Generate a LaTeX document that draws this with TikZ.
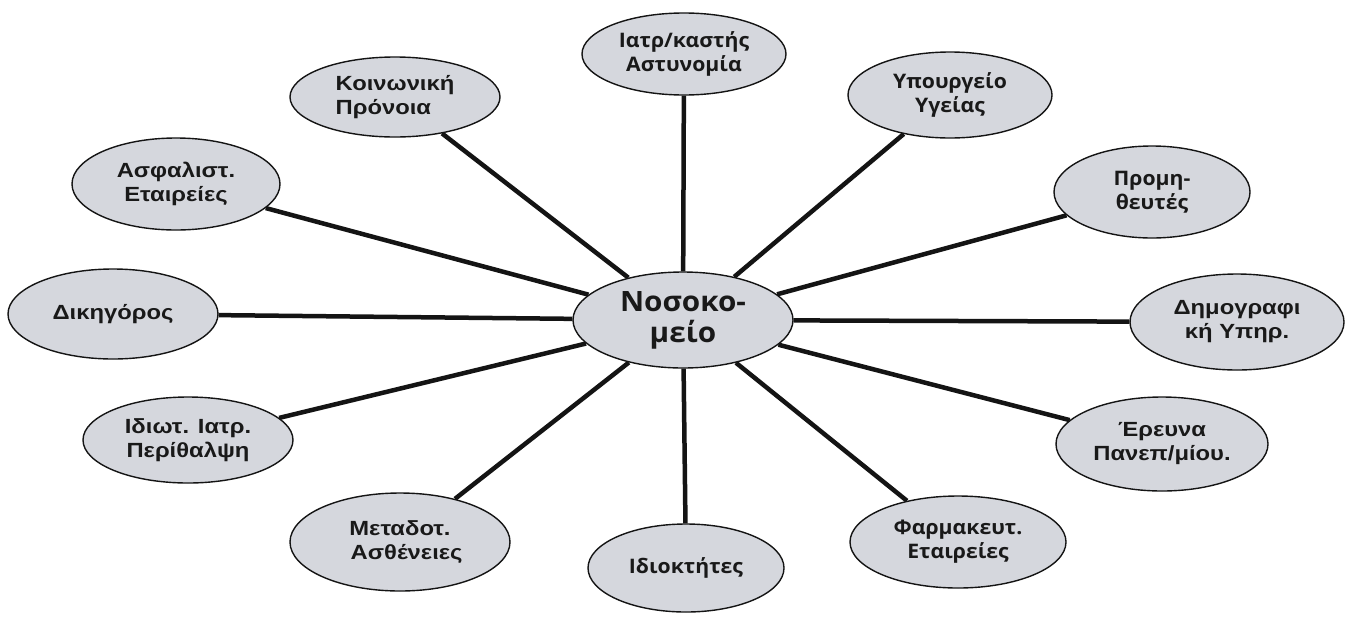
\documentclass[tikz,border=0pt]{standalone}
\usepackage{fontspec}
\setmainfont{Liberation Sans}
\newfontfamily\osfont{Open Sans Bold}[FakeStretch=1.06]
\newfontfamily\arfont{Liberation Sans Bold}[FakeStretch=1.16]
\usetikzlibrary{shapes.geometric,backgrounds}
\definecolor{ellfill}{RGB}{213,215,221}
\definecolor{linecol}{RGB}{20,20,20}
\tikzset{
  ell/.style={ellipse, draw=linecol, line width=1.4pt, fill=ellfill, inner sep=0pt, align=center, text=black!90},
  osb/.style={font=\osfont\fontsize{20}{24}\selectfont},
  arb/.style={font=\arfont\fontsize{20.5}{24}\selectfont},
  spoke/.style={draw=linecol, line width=4.5pt}
}
\begin{document}
\begin{tikzpicture}[x=1pt,y=-1pt]
\useasboundingbox (0,0) rectangle (1348,624);
\coordinate (c) at (683,320);
\node[ell, osb, minimum width=204pt, minimum height=82pt] (iatr) at (684,54) {Ιατρ/καστής\\Αστυνομία};
\node[ell, osb, minimum width=204pt, minimum height=86pt] (ypoyrg) at (950,95) {Υπουργείο\\Υγείας};
\node[ell, osb, minimum width=196pt, minimum height=92pt] (prom) at (1152,192) {Προμη-\\θευτές};
\node[ell, arb, minimum width=214pt, minimum height=96pt] (dimog) at (1237,322) {Δημογραφι\\κή Υπηρ.};
\node[ell, arb, minimum width=212pt, minimum height=94pt] (erev) at (1162,444) {Έρευνα\\Πανεπ/μίου.};
\node[ell, osb, minimum width=216pt, minimum height=92pt] (farm) at (958,542) {Φαρμακευτ.\\Εταιρείες};
\node[ell, osb, minimum width=196pt, minimum height=88pt] (idiokt) at (686,568) {Ιδιοκτήτες};
\node[ell, arb, minimum width=220pt, minimum height=98pt] (metad) at (400,542) {Μεταδοτ.\\\ \ Ασθένειες};
\node[ell, arb, minimum width=210pt, minimum height=86pt] (idiot) at (188,440) {Ιδιωτ. Ιατρ.\\Περίθαλψη};
\node[ell, arb, minimum width=210pt, minimum height=90pt] (dikig) at (113,314) {Δικηγόρος};
\node[ell, arb, minimum width=208pt, minimum height=92pt] (asfal) at (176,184) {Ασφαλιστ.\\Εταιρείες};
\node[ell, arb, minimum width=210pt, minimum height=80pt, align=left] (koin) at (395,97) {Κοινωνική\\Πρόνοια};
\node[ell, font=\osfont\fontsize{28}{31}\selectfont, minimum width=220pt, minimum height=96pt] (nos) at (c) {Νοσοκο-\\μείο};
\begin{scope}[on background layer]
\fill[white] (0,0) rectangle (1348,624);
\foreach \n in {iatr, ypoyrg, prom, dimog, erev, farm, idiokt, metad, idiot, dikig, asfal, koin}{
  \draw[spoke] (nos) -- (\n);
}
\end{scope}
\end{tikzpicture}
\end{document}
